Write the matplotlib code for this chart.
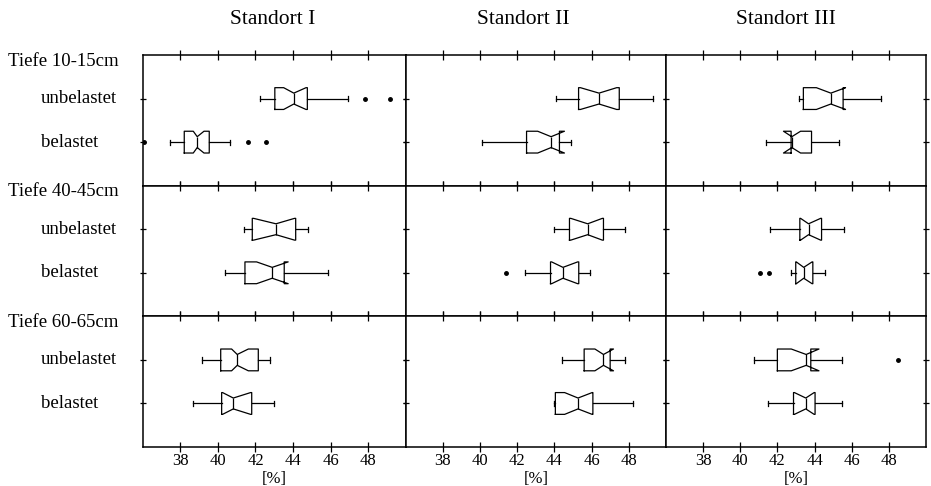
import matplotlib
matplotlib.use("Agg")
import matplotlib.pyplot as plt
import matplotlib.transforms as mtransforms

plt.rcParams["font.family"] = ["Liberation Serif", "DejaVu Serif"]

sites = ["Standort I", "Standort II", "Standort III"]
depths = ["Tiefe 10-15cm", "Tiefe 40-45cm", "Tiefe 60-65cm"]
groups = ["unbelastet", "belastet"]
xticks = [38, 40, 42, 44, 46, 48]

# [depth][site] -> (unbelastet, belastet)
whislo = [
    [(42.25, 37.44), (44.07, 40.09), (43.14, 41.37)],
    [(41.39, 40.39), (43.99, 42.43), (41.63, 42.76)],
    [(39.14, 38.69), (44.42, 43.96), (40.74, 41.50)],
]
q1 = [
    [(43.03, 38.21), (45.30, 42.50), (43.40, 42.74)],
    [(41.83, 41.44), (44.81, 43.79), (43.21, 42.99)],
    [(40.15, 40.20), (45.60, 44.05), (42.00, 42.87)],
]
med = [
    [(44.04, 38.90), (46.40, 43.82), (44.88, 42.78)],
    [(43.09, 42.89), (45.79, 44.46), (43.68, 43.42)],
    [(41.03, 40.82), (46.64, 45.27), (43.55, 43.53)],
]
q3 = [
    [(44.76, 39.54), (47.49, 44.27), (45.54, 43.84)],
    [(44.14, 43.53), (46.64, 45.31), (44.38, 43.91)],
    [(42.15, 41.80), (47.00, 46.07), (43.80, 44.03)],
]
whishi = [
    [(46.95, 40.64), (49.33, 44.90), (47.57, 45.30)],
    [(44.78, 45.87), (47.80, 45.89), (45.61, 44.56)],
    [(42.79, 43.00), (47.82, 48.24), (45.48, 45.48)],
]
cilo = [
    [(43.50, 38.69), (45.40, 43.10), (44.10, 42.33)],
    [(41.90, 42.06), (44.88, 43.85), (43.25, 43.02)],
    [(40.73, 40.25), (46.18, 44.55), (42.75, 42.92)],
]
cihi = [
    [(44.69, 39.26), (47.35, 44.54), (45.67, 43.25)],
    [(44.08, 43.74), (46.58, 45.25), (44.33, 43.87)],
    [(41.62, 41.74), (47.18, 46.03), (44.24, 43.98)],
]
fliers = [
    [([47.85, 49.15], [36.05, 41.62, 42.54]), ([], []), ([], [])],
    [([], []), ([], [41.41]), ([], [41.09, 41.53])],
    [([], []), ([], []), ([48.47], [])],
]

fig = plt.figure(figsize=(9.31, 4.86), dpi=100)
gs = fig.add_gridspec(3, 3, left=0.1533, right=0.9946, top=0.8868, bottom=0.0802,
                      wspace=0, hspace=0, width_ratios=[263, 260, 260])

line = dict(color="black", lw=0.9)
title_x = [273 / 931, 523 / 931, 786 / 931]

for r in range(3):
    for c in range(3):
        ax = fig.add_subplot(gs[r, c])
        stats = []
        for g in range(2):
            stats.append(dict(med=med[r][c][g], q1=q1[r][c][g], q3=q3[r][c][g],
                              whislo=whislo[r][c][g], whishi=whishi[r][c][g],
                              cilo=cilo[r][c][g], cihi=cihi[r][c][g],
                              fliers=fliers[r][c][g]))
        ax.bxp(stats, positions=[2, 1], widths=0.5, orientation="horizontal",
               shownotches=True, capwidths=0.12, manage_ticks=False,
               boxprops=line, whiskerprops=line, capprops=line, medianprops=line,
               flierprops=dict(marker="o", markersize=2.5, markerfacecolor="black",
                               markeredgecolor="black", linestyle="none"))
        ax.set_xlim(36, 50)
        ax.set_ylim(0, 3)
        ax.set_xticks(xticks)
        ax.set_yticks([1, 2])
        for s in ax.spines.values():
            s.set_linewidth(1.1)
        ax.tick_params(axis="x", direction="inout", top=True, length=7, width=0.9,
                       labelsize=12, pad=1, labelbottom=(r == 2))
        ax.tick_params(axis="y", direction="inout", right=True, length=5, width=0.9,
                       labelleft=False)
        if r == 2:
            ax.set_xlabel("[%]", fontsize=12, labelpad=1.5)
        if r == 0:
            fig.text(title_x[c], 0.959, sites[c], ha="center", va="center", fontsize=15.5)
        if c == 0:
            tr = mtransforms.blended_transform_factory(fig.transFigure, ax.transData)
            fig.text(8 / 931, 2.86, depths[r], transform=tr, ha="left", va="center",
                     fontsize=13.5)
            fig.text(41 / 931, 2, groups[0], transform=tr, ha="left", va="center",
                     fontsize=13.5)
            fig.text(41 / 931, 1, groups[1], transform=tr, ha="left", va="center",
                     fontsize=13.5)

fig.savefig("out.png", dpi=100)
